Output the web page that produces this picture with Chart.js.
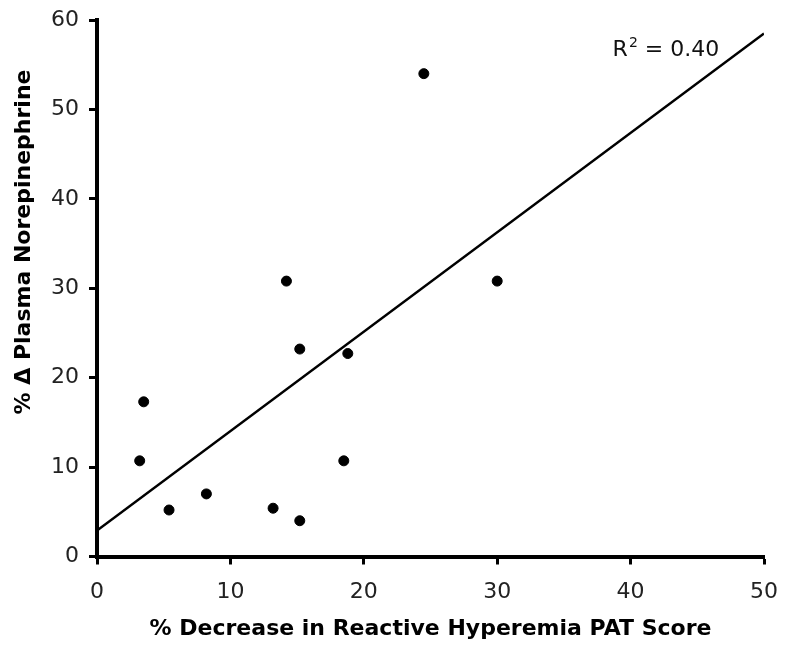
<!DOCTYPE html>
<html>
<head>
<meta charset="utf-8">
<script src="https://cdn.jsdelivr.net/npm/chart.js@4"></script>
<style>
    body { margin: 0; background: #fff; }
    canvas { display: block; }
</style>
</head>
<body>
<canvas id="chart" width="785" height="646"></canvas>
<script>
// % decrease in RH-PAT score vs % change in plasma norepinephrine
const patDecrease = [3.2, 3.5, 5.4, 8.2, 13.2, 15.2, 15.2, 18.5, 18.8, 14.2, 24.5, 30.0];
const neChange    = [10.7, 17.3, 5.2, 7.0, 5.4, 4.0, 23.2, 10.7, 22.7, 30.8, 54.0, 30.8];

// regression line end points
const trendX = [0, 50];
const trendY = [2.9, 58.5];

const xTicks = [0, 10, 20, 30, 40, 50];
const yTicks = [0, 10, 20, 30, 40, 50, 60];

const rSquared = "0.40";
const xTitle = "% Decrease in Reactive Hyperemia PAT Score";
const yTitle = "% \u0394 Plasma Norepinephrine";

const FONT = "'DejaVu Sans', Verdana, sans-serif";

const labelsPlugin = {
    id: "labels",
    afterDraw(chart) {
        const ctx = chart.ctx;
        const x = chart.scales.x, y = chart.scales.y;
        ctx.save();
        ctx.fillStyle = "#111";

        // R² text
        let px = x.getPixelForValue(38.65);
        const py = y.getPixelForValue(56.0);
        ctx.font = "22px " + FONT;
        ctx.textBaseline = "alphabetic";
        ctx.fillText("R", px, py);
        px += ctx.measureText("R").width + 1;
        ctx.font = "14px " + FONT;
        ctx.fillText("2", px, py - 9);
        px += ctx.measureText("2").width;
        ctx.font = "22px " + FONT;
        ctx.fillText(" = " + rSquared, px, py);

        // y axis title
        ctx.translate(24, 242);
        ctx.rotate(-Math.PI / 2);
        ctx.font = "bold 22px " + FONT;
        ctx.fillStyle = "#000";
        ctx.textAlign = "center";
        ctx.textBaseline = "middle";
        ctx.fillText(yTitle, 0, 0);
        ctx.restore();
    }
};

new Chart(document.getElementById("chart"), {
    type: "scatter",
    data: {
        datasets: [
            {
                label: "NE",
                data: patDecrease.map((v, i) => ({ x: v, y: neChange[i] })),
                backgroundColor: "#000",
                borderColor: "#000",
                pointRadius: 5,
                pointHoverRadius: 5
            },
            {
                type: "line",
                label: "fit",
                data: trendX.map((v, i) => ({ x: v, y: trendY[i] })),
                borderColor: "#000",
                borderWidth: 2.5,
                pointRadius: 0,
                fill: false
            }
        ]
    },
    options: {
        responsive: false,
        animation: false,
        layout: { padding: { top: 20, right: 21, left: 0, bottom: 0 } },
        plugins: {
            legend: { display: false },
            tooltip: { enabled: false }
        },
        scales: {
            x: {
                type: "linear",
                min: 0,
                max: 50,
                afterBuildTicks: s => { s.ticks = xTicks.map(v => ({ value: v })); },
                afterFit: s => { s.height = 89.5; s.paddingLeft = 0; s.paddingRight = 0; },
                ticks: { font: { size: 22, family: FONT }, color: "#222", padding: 15 },
                grid: { drawOnChartArea: false, tickLength: 8, tickWidth: 3, tickColor: "#000" },
                border: { color: "#000", width: 4 },
                title: {
                    display: true,
                    text: xTitle,
                    color: "#000",
                    font: { size: 22, weight: "bold", family: FONT },
                    padding: { top: 0 }
                }
            },
            y: {
                min: 0,
                max: 60,
                afterBuildTicks: s => { s.ticks = yTicks.map(v => ({ value: v })); },
                afterFit: s => { s.width = 97; s.paddingTop = 0; s.paddingBottom = 0; },
                ticks: { font: { size: 22, family: FONT }, color: "#222", padding: 10 },
                grid: { drawOnChartArea: false, tickLength: 8, tickWidth: 3, tickColor: "#000" },
                border: { color: "#000", width: 4 }
            }
        }
    },
    plugins: [labelsPlugin]
});
</script>
</body>
</html>
